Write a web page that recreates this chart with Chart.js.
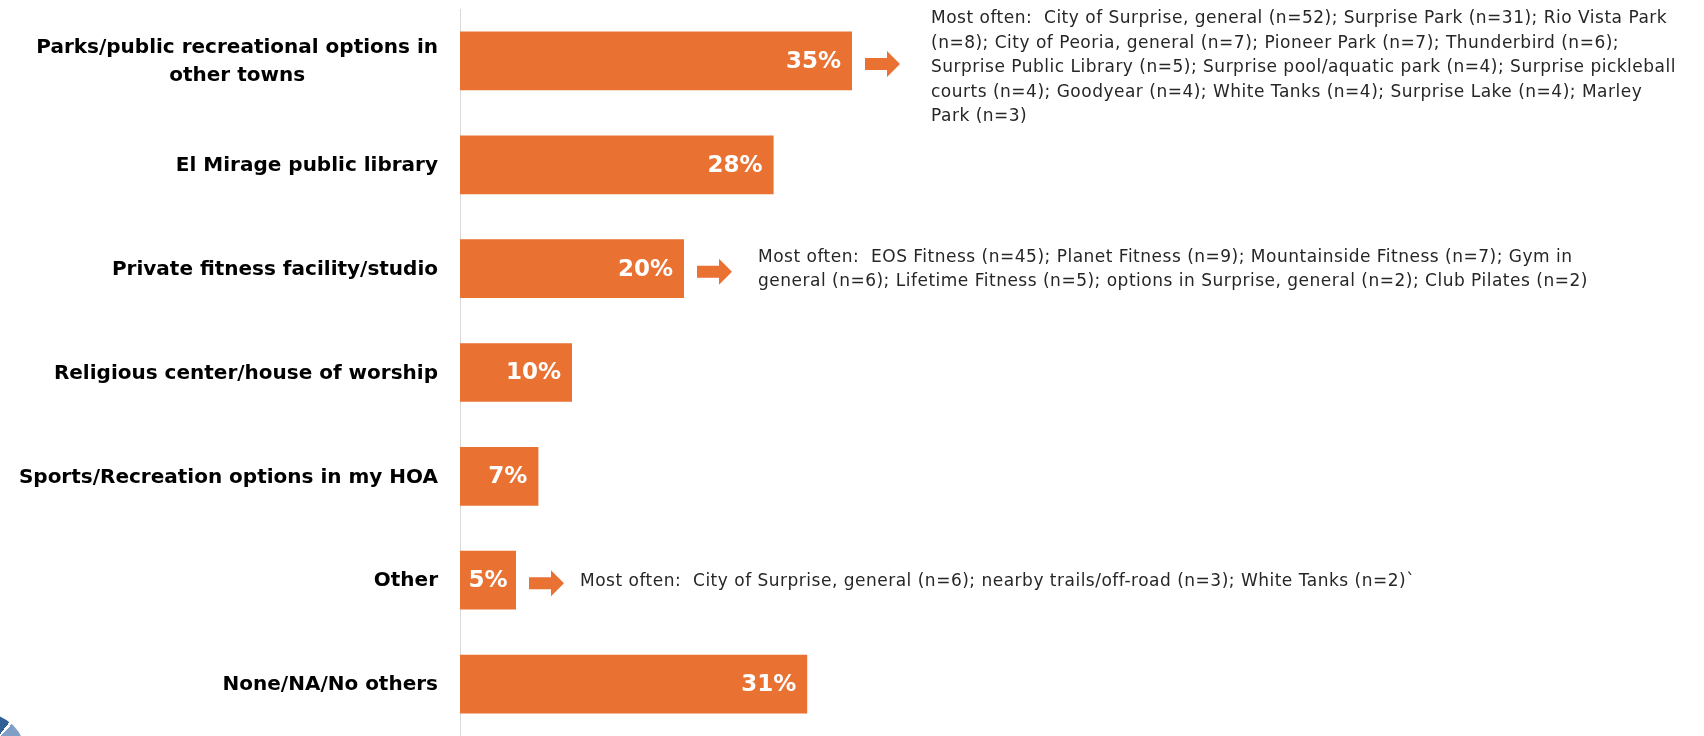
<!DOCTYPE html>
<html>
<head>
<meta charset="utf-8">
<title>Other places used for recreation</title>
<script src="https://cdn.jsdelivr.net/npm/chart.js@4.4.1/dist/chart.umd.min.js"></script>
<style>
  html, body { margin: 0; padding: 0; background: #ffffff; overflow: hidden; }
  #wrap { position: relative; width: 1704px; height: 736px; }
  #logo {
    position: absolute; left: -60px; top: 713px; width: 86px; height: 86px;
    border-radius: 50%;
    background: conic-gradient(from 0deg, #2f6096 0deg 38deg, #ffffff 38deg 42deg, #7f9fc6 42deg 110deg, #2f6096 110deg 360deg);
  }
</style>
</head>
<body>
<div id="wrap">
  <canvas id="chart" width="1704" height="736"></canvas>
  <div id="logo"></div>
</div>
<script>
const categories = [
  ['Parks/public recreational options in', 'other towns'],
  'El Mirage public library',
  'Private fitness facility/studio',
  'Religious center/house of worship',
  'Sports/Recreation options in my HOA',
  'Other',
  'None/NA/No others'
];

const values = [35, 28, 20, 10, 7, 5, 31];

// verbatim follow-up text, one entry per bar (null = no note)
const notes = [
  [
    'Most often:  City of Surprise, general (n=52); Surprise Park (n=31); Rio Vista Park',
    '(n=8); City of Peoria, general (n=7); Pioneer Park (n=7); Thunderbird (n=6);',
    'Surprise Public Library (n=5); Surprise pool/aquatic park (n=4); Surprise pickleball',
    'courts (n=4); Goodyear (n=4); White Tanks (n=4); Surprise Lake (n=4); Marley',
    'Park (n=3)'
  ],
  null,
  [
    'Most often:  EOS Fitness (n=45); Planet Fitness (n=9); Mountainside Fitness (n=7); Gym in',
    'general (n=6); Lifetime Fitness (n=5); options in Surprise, general (n=2); Club Pilates (n=2)'
  ],
  null,
  null,
  ['Most often:  City of Surprise, general (n=6); nearby trails/off-road (n=3); White Tanks (n=2)`'],
  null
];

const ORANGE = '#E97132';
const LABEL_FONT = 'bold 20px "DejaVu Sans", sans-serif';
const VALUE_FONT = 'bold 23px "DejaVu Sans", sans-serif';
const NOTE_FONT = '17px "DejaVu Sans", sans-serif';
const NOTE_GAP = [31, 0, 26, 0, 0, 16, 0];

const drawArrow = (ctx, x, y) => {
  // block arrow: shaft then head
  ctx.beginPath();
  ctx.moveTo(x, y - 6);
  ctx.lineTo(x + 22, y - 6);
  ctx.lineTo(x + 22, y - 13);
  ctx.lineTo(x + 35, y);
  ctx.lineTo(x + 22, y + 13);
  ctx.lineTo(x + 22, y + 6);
  ctx.lineTo(x, y + 6);
  ctx.closePath();
  ctx.fillStyle = ORANGE;
  ctx.fill();
};

const extrasPlugin = {
  id: 'extras',
  afterDraw(chart) {
    const ctx = chart.ctx;
    const yScale = chart.scales.y;
    const meta = chart.getDatasetMeta(0);
    ctx.save();

    // category labels, block right aligned, lines centred in the block
    ctx.font = LABEL_FONT;
    ctx.fillStyle = '#000000';
    ctx.textAlign = 'center';
    ctx.textBaseline = 'middle';
    const labelRight = chart.chartArea.left - 22;
    categories.forEach((cat, i) => {
      const lines = Array.isArray(cat) ? cat : [cat];
      const w = Math.max(...lines.map(l => ctx.measureText(l).width));
      const cy = yScale.getPixelForValue(i) + 1;
      const lh = 28;
      lines.forEach((l, j) => {
        ctx.fillText(l, labelRight - w / 2, cy + (j - (lines.length - 1) / 2) * lh);
      });
    });

    meta.data.forEach((bar, i) => {
      const txt = values[i] + '%';
      ctx.font = VALUE_FONT;
      ctx.fillStyle = '#ffffff';
      const tw = ctx.measureText(txt).width;
      const barW = bar.x - bar.base;
      if (tw + 24 > barW) {
        ctx.textAlign = 'center';
        ctx.fillText(txt, bar.base + barW / 2, bar.y + 1);
      } else {
        ctx.textAlign = 'right';
        ctx.fillText(txt, bar.x - 11, bar.y + 1);
      }

      const note = notes[i];
      if (!note) return;
      const ax = bar.x + 13;
      drawArrow(ctx, ax, bar.y + 3);
      ctx.font = NOTE_FONT;
      ctx.letterSpacing = '0.5px';
      ctx.fillStyle = '#262626';
      ctx.textAlign = 'left';
      const lh = 24.5;
      let first = bar.y + 1 - (note.length - 1) / 2 * lh;
      if (first < 19) first = 19;
      note.forEach((l, j) => {
        ctx.fillText(l, ax + 35 + NOTE_GAP[i], first + j * lh);
      });
      ctx.letterSpacing = '0px';
    });
    ctx.restore();
  }
};

new Chart(document.getElementById('chart'), {
  type: 'bar',
  data: {
    labels: categories,
    datasets: [{
      data: values,
      backgroundColor: ORANGE,
      borderWidth: 0,
      barPercentage: 0.565,
      categoryPercentage: 1
    }]
  },
  options: {
    indexAxis: 'y',
    responsive: false,
    animation: false,
    events: [],
    layout: { padding: { left: 0, top: 9, right: 124, bottom: 0 } },
    plugins: {
      legend: { display: false },
      tooltip: { enabled: false }
    },
    scales: {
      x: { display: false, min: 0, max: 100 },
      y: {
        grid: { display: false },
        border: { display: true, color: '#d9d9d9', width: 1 },
        ticks: { display: false },
        afterFit: (scale) => { scale.width = 460; }
      }
    }
  },
  plugins: [extrasPlugin]
});
</script>
</body>
</html>
